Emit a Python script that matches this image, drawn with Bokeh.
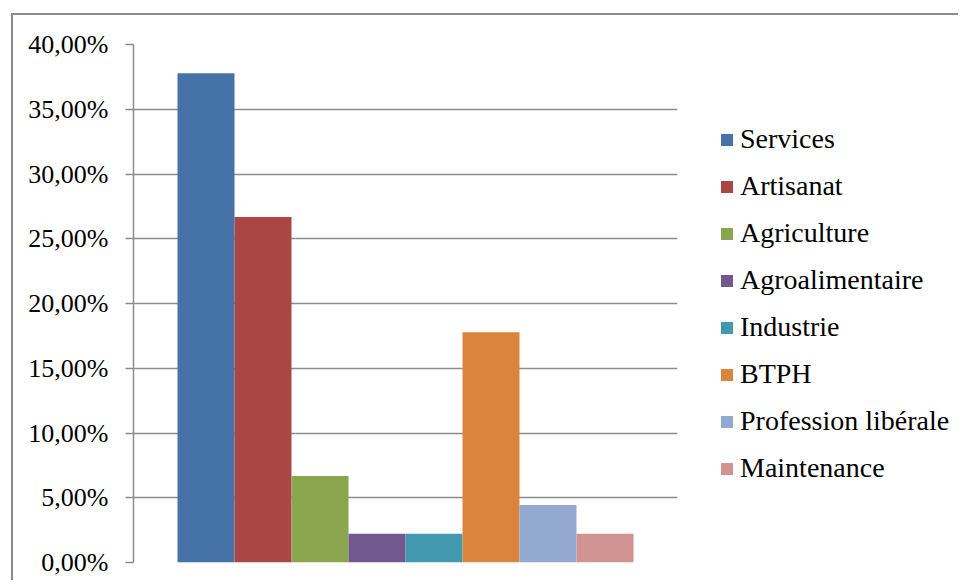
from bokeh.plotting import figure
from bokeh.layouts import row
from bokeh.models import (FactorRange, Range1d, FixedTicker, CustomJSTickFormatter,
                          Legend, LegendItem, ColumnDataSource)
from bokeh.embed import file_html
from bokeh.resources import INLINE

categories = ["Services", "Artisanat", "Agriculture", "Agroalimentaire",
              "Industrie", "BTPH", "Profession libérale", "Maintenance"]
values = [37.78, 26.67, 6.67, 2.22, 2.22, 17.78, 4.44, 2.22]
colors = ["#4572A7", "#AA4643", "#89A54E", "#71588F",
          "#4198AF", "#DB843D", "#93A9CF", "#D19392"]
y_ticks = [0, 5, 10, 15, 20, 25, 30, 35, 40]

FONT = "Liberation Serif"
GRID = "#8c8c8c"

p = figure(width=680, height=565, output_backend="svg", toolbar_location=None,
           x_range=FactorRange(factors=categories, range_padding=0.193,
                               range_padding_units="percent"),
           y_range=Range1d(0, 40),
           min_border_left=120, min_border_top=29, min_border_bottom=18,
           min_border_right=16)
p.outline_line_color = None
p.background_fill_color = "white"
p.border_fill_color = "white"

for cat, val, col in zip(categories, values, colors):
    src = ColumnDataSource(dict(x=[cat], top=[val]))
    p.vbar(x="x", top="top", width=1.0, source=src, fill_color=col,
           line_color=None)

p.xgrid.visible = False
p.xaxis.visible = False
p.ygrid.ticker = FixedTicker(ticks=y_ticks)
p.ygrid.grid_line_color = GRID
p.ygrid.grid_line_width = 1.5

p.yaxis.ticker = FixedTicker(ticks=y_ticks)
p.yaxis.formatter = CustomJSTickFormatter(
    code="return tick.toFixed(2).replace('.', ',') + '%';")
p.yaxis.axis_line_color = GRID
p.yaxis.axis_line_width = 1.5
p.yaxis.major_tick_line_color = GRID
p.yaxis.major_tick_line_width = 1.5
p.yaxis.major_tick_out = 8
p.yaxis.major_tick_in = 0
p.yaxis.minor_tick_line_color = None
p.yaxis.major_label_standoff = 17
p.yaxis.major_label_text_font = FONT
p.yaxis.major_label_text_font_size = "26px"
p.yaxis.major_label_text_color = "black"

# legend figure
lg = figure(width=265, height=565, output_backend="svg", toolbar_location=None,
            x_range=Range1d(0, 1), y_range=Range1d(0, 1),
            min_border_left=0, min_border_right=0, min_border_top=0,
            min_border_bottom=0)
lg.axis.visible = False
lg.grid.visible = False
lg.outline_line_color = None
lg.border_fill_color = "white"

items = []
for cat, col in zip(categories, colors):
    src = ColumnDataSource(dict(x=[5], top=[5]))
    r = lg.vbar(x="x", top="top", width=0.1, source=src, fill_color=col,
                line_color=None)
    items.append(LegendItem(label=cat, renderers=[r]))

legend = Legend(items=items, location=(26, 78), padding=0, margin=0,
                border_line_color=None, background_fill_alpha=0,
                glyph_width=15, glyph_height=15, label_height=15,
                label_standoff=6, spacing=15,
                label_text_font=FONT, label_text_font_size="28px",
                label_text_color="black")
lg.add_layout(legend, "center")

layout = row(p, lg, styles={"border-left": "2px solid #8c8c8c",
                            "border-top": "2px solid #8c8c8c",
                            "margin-left": "11px", "margin-top": "13px"})

open("out.html", "w").write(file_html(layout, INLINE))
